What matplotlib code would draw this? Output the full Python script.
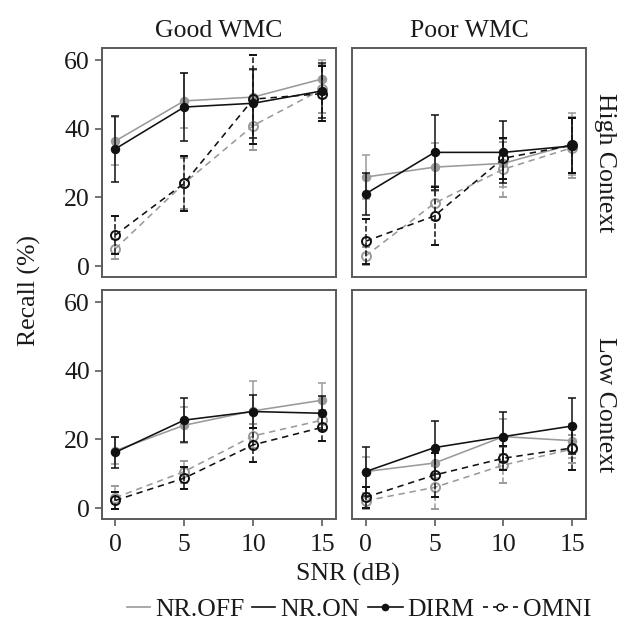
import matplotlib
matplotlib.use("Agg")
import matplotlib.pyplot as plt
from matplotlib.lines import Line2D

plt.rcParams["font.family"] = ["Liberation Serif", "DejaVu Serif"]

snr = [0, 5, 10, 15]
wmc_labels = ["Good WMC", "Poor WMC"]
context_labels = ["High Context", "Low Context"]
y_ticks = [0, 20, 40, 60]

# Mean recall (%) and error half-widths, high context, good WMC
hi_good_off_dirm = [36.4, 48.1, 49.2, 54.5]
hi_good_on_dirm = [34.1, 46.3, 47.4, 51.0]
hi_good_off_omni = [5.0, 24.1, 40.9, 51.5]
hi_good_on_omni = [9.0, 24.1, 48.6, 50.2]
hi_good_off_dirm_err = [7.0, 8.0, 8.0, 5.5]
hi_good_on_dirm_err = [9.5, 10.0, 10.0, 8.0]
hi_good_off_omni_err = [3.0, 7.5, 7.0, 7.0]
hi_good_on_omni_err = [5.5, 8.0, 13.0, 8.0]

# High context, poor WMC
hi_poor_off_dirm = [25.9, 28.8, 29.9, 35.5]
hi_poor_on_dirm = [21.0, 33.1, 33.1, 35.0]
hi_poor_off_omni = [2.9, 18.3, 28.2, 34.5]
hi_poor_on_omni = [7.2, 14.6, 31.4, 35.2]
hi_poor_off_dirm_err = [6.5, 7.0, 7.0, 9.0]
hi_poor_on_dirm_err = [6.0, 11.0, 9.0, 8.0]
hi_poor_off_omni_err = [2.5, 5.0, 8.0, 9.0]
hi_poor_on_omni_err = [6.5, 8.5, 6.0, 8.0]

# Low context, good WMC
lo_good_off_dirm = [16.7, 24.1, 28.3, 31.4]
lo_good_on_dirm = [16.2, 25.6, 28.1, 27.6]
lo_good_off_omni = [3.0, 10.6, 21.0, 25.6]
lo_good_on_omni = [2.2, 8.7, 18.4, 23.5]
lo_good_off_dirm_err = [4.0, 5.2, 8.7, 5.0]
lo_good_on_dirm_err = [4.5, 6.5, 4.7, 5.0]
lo_good_off_omni_err = [3.3, 3.2, 3.5, 3.0]
lo_good_on_omni_err = [2.5, 3.2, 4.9, 3.9]

# Low context, poor WMC
lo_poor_off_dirm = [10.6, 13.1, 20.8, 19.6]
lo_poor_on_dirm = [10.6, 17.6, 20.8, 23.9]
lo_poor_off_omni = [2.1, 6.0, 12.5, 17.2]
lo_poor_on_omni = [3.1, 9.6, 14.5, 17.5]
lo_poor_off_dirm_err = [4.4, 4.5, 5.0, 5.0]
lo_poor_on_dirm_err = [7.2, 7.6, 7.3, 8.1]
lo_poor_off_omni_err = [2.4, 6.3, 5.2, 4.0]
lo_poor_on_omni_err = [3.1, 6.5, 3.5, 6.4]

panels = {
    (0, 0): [(hi_good_off_dirm, hi_good_off_dirm_err, "off", "dirm"),
             (hi_good_off_omni, hi_good_off_omni_err, "off", "omni"),
             (hi_good_on_dirm, hi_good_on_dirm_err, "on", "dirm"),
             (hi_good_on_omni, hi_good_on_omni_err, "on", "omni")],
    (0, 1): [(hi_poor_off_dirm, hi_poor_off_dirm_err, "off", "dirm"),
             (hi_poor_off_omni, hi_poor_off_omni_err, "off", "omni"),
             (hi_poor_on_dirm, hi_poor_on_dirm_err, "on", "dirm"),
             (hi_poor_on_omni, hi_poor_on_omni_err, "on", "omni")],
    (1, 0): [(lo_good_off_dirm, lo_good_off_dirm_err, "off", "dirm"),
             (lo_good_off_omni, lo_good_off_omni_err, "off", "omni"),
             (lo_good_on_dirm, lo_good_on_dirm_err, "on", "dirm"),
             (lo_good_on_omni, lo_good_on_omni_err, "on", "omni")],
    (1, 1): [(lo_poor_off_dirm, lo_poor_off_dirm_err, "off", "dirm"),
             (lo_poor_off_omni, lo_poor_off_omni_err, "off", "omni"),
             (lo_poor_on_dirm, lo_poor_on_dirm_err, "on", "dirm"),
             (lo_poor_on_omni, lo_poor_on_omni_err, "on", "omni")],
}

nr_color = {"off": "#9a9a9a", "on": "#111111"}
dash = (0, (4, 3))
FS = 18.5

W, H = 626, 637
fig = plt.figure(figsize=(W / 100, H / 100), dpi=100)

col_x = [101.7, 352.0]
row_top = [48.0, 290.0]
pw, ph = 234.0, 229.0
frame_color = "#5a5a5a"
text_color = "#1a1a1a"

for (r, c), series in panels.items():
    ax = fig.add_axes([col_x[c] / W, 1 - (row_top[r] + ph) / H, pw / W, ph / H])
    for vals, errs, nr, mic in series:
        col = nr_color[nr]
        ls = "-" if mic == "dirm" else dash
        if mic == "dirm":
            mkw = dict(marker="o", markersize=5.8, markerfacecolor=col,
                       markeredgecolor=col)
        else:
            mkw = dict(marker="o", markersize=6.5, markerfacecolor="none",
                       markeredgecolor=col, markeredgewidth=1.4)
        _, caps, bars = ax.errorbar(snr, vals, yerr=errs, color=col, linestyle=ls,
                                    linewidth=1.15, elinewidth=1.1, capsize=3,
                                    capthick=1.1, zorder=3 if nr == "on" else 2, **mkw)
        for b in bars:
            b.set_linestyle("-" if mic == "dirm" else "--")
    ax.set_xlim(-0.98, 15.98)
    ax.set_ylim(-3.2, 63.5)
    ax.set_xticks(snr)
    ax.set_yticks(y_ticks)
    for s in ax.spines.values():
        s.set_color(frame_color)
        s.set_linewidth(1.4)
    ax.tick_params(direction="out", length=5, width=1.2, color=frame_color,
                   labelsize=FS, labelcolor=text_color)
    ax.tick_params(axis="x", pad=6)
    ax.tick_params(axis="y", pad=3.5)
    if c == 1:
        ax.tick_params(axis="y", left=False, labelleft=False)
        ax.text(1.035, 0.5, context_labels[r], transform=ax.transAxes, rotation=-90,
                ha="left", va="center", fontsize=FS, color=text_color)
    if r == 0:
        ax.tick_params(axis="x", bottom=False, labelbottom=False)
        ax.text(0.5, 1.05, wmc_labels[c], transform=ax.transAxes,
                ha="center", va="baseline", fontsize=FS, color=text_color)

fig.text(29 / W, 1 - 290 / H, "Recall (%)", rotation=90, ha="center", va="center",
         fontsize=FS, color=text_color)
fig.text(348 / W, 1 - 574 / H, "SNR (dB)", ha="center", va="center",
         fontsize=FS, color=text_color)

# Legend: keys and labels placed one after another along a single row
leg_y = 1 - 607 / H
renderer = fig.canvas.get_renderer()
legend_items = [
    ("NR.OFF", 23, dict(color=nr_color["off"], lw=1.2), None),
    ("NR.ON", 23, dict(color=nr_color["on"], lw=1.2), None),
    ("DIRM", 35, dict(color=nr_color["on"], lw=1.2),
     dict(marker="o", markersize=4.5, color=nr_color["on"])),
    ("OMNI", 35, dict(color=nr_color["on"], lw=1.2, linestyle=(0, (3, 3))),
     dict(marker="o", markersize=5, markerfacecolor="none",
          markeredgecolor=nr_color["on"], markeredgewidth=1.0)),
]
x = 127.0
for name, klen, line_kw, mark_kw in legend_items:
    fig.add_artist(Line2D([x / W, (x + klen) / W], [leg_y, leg_y],
                          transform=fig.transFigure, **line_kw))
    if mark_kw:
        fig.add_artist(Line2D([(x + klen / 2) / W], [leg_y], linestyle="none",
                              transform=fig.transFigure, **mark_kw))
    x += klen + 5
    t = fig.text(x / W, leg_y, name, ha="left", va="center_baseline",
                 fontsize=FS, color=text_color)
    x += t.get_window_extent(renderer).width + 8

fig.savefig("out.png", dpi=100)
